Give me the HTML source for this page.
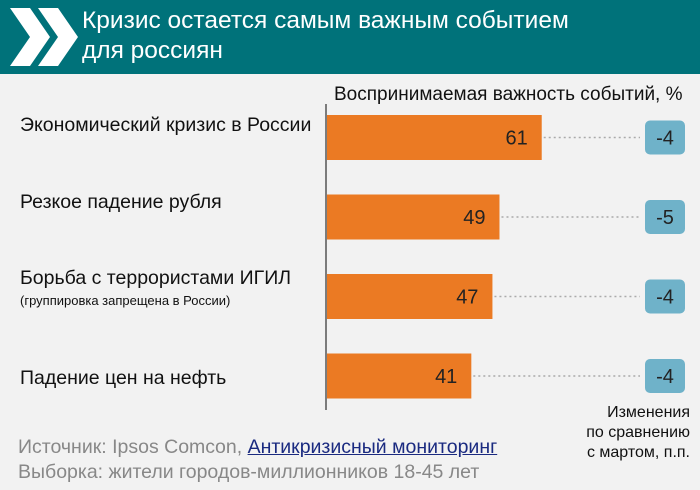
<!DOCTYPE html>
<html><head><meta charset="utf-8"><style>
body{margin:0;width:700px;height:490px;background:#f2f2f2;font-family:"Liberation Sans","DejaVu Sans",sans-serif;overflow:hidden;position:relative}
.hdr{position:absolute;left:0;top:0;width:700px;height:74px;background:#00727a}
.t{position:absolute;left:82px;color:#fff;font-size:24.5px;line-height:30px}
.lab{position:absolute;left:20px;font-size:19.5px;color:#111}
.note{position:absolute;font-size:19.5px;color:#888;white-space:nowrap}
</style></head><body>
<div class="hdr">
<svg width="80" height="74" style="position:absolute;left:0;top:0">
<polygon points="10,8 30,8 50,37 30,66 10,66 30,37" fill="#fff"/>
<polygon points="38,8 58,8 78,37 58,66 38,66 58,37" fill="#fff"/>
</svg>
<div class="t" style="top:6px">Кризис остается самым важным событием<br>для россиян</div>
</div>
<div style="position:absolute;left:334px;top:84px;font-size:19px;color:#111;white-space:nowrap">Воспринимаемая важность событий, %</div>
<div class="lab" style="top:114px">Экономический кризис в России</div>
<div class="lab" style="top:191px">Резкое падение рубля</div>
<div class="lab" style="top:267px">Борьба с террористами ИГИЛ</div>
<div style="position:absolute;left:20px;top:293px;font-size:13px;color:#111">(группировка запрещена в России)</div>
<div class="lab" style="top:367px">Падение цен на нефть</div>
<svg id="ch" width="700" height="490" style="position:absolute;left:0;top:0"></svg>
<div style="position:absolute;left:560px;top:403px;width:130px;text-align:right;font-size:16px;line-height:20px;color:#111">Изменения<br>по сравнению<br>с мартом, п.п.</div>
<div class="note" style="left:18px;top:436px">Источник: Ipsos Comcon, <span style="color:#1a2a80;text-decoration:underline">Антикризисный мониторинг</span></div>
<div class="note" style="left:18px;top:461px">Выборка: жители городов-миллионников 18-45 лет</div>
<script>
const categories=["Экономический кризис в России","Резкое падение рубля","Борьба с террористами ИГИЛ","Падение цен на нефть"];
const values=[61,49,47,41];
const changes=["-4","-5","-4","-4"];
const svg=document.getElementById('ch');
const NS='http://www.w3.org/2000/svg';
const x0=327,k=3.52,top0=115,step=79.5,bh=45;
const xs=v=>x0+v*k, ys=i=>top0+i*step;
function mk(t,a){const e=document.createElementNS(NS,t);for(const n in a)e.setAttribute(n,a[n]);svg.appendChild(e);return e;}
values.forEach((v,i)=>{
const y=ys(i),cy=y+bh/2;
const r=mk('rect',{x:x0,y:y,width:xs(v)-x0,height:bh,fill:'#eb7a23'});


const l=mk('line',{x1:xs(v)+2,y1:cy,x2:640,y2:cy,stroke:'#aaa','stroke-width':1.5,'stroke-dasharray':'2,3'});


const t=mk('text',{x:xs(v)-14,y:cy+7,'text-anchor':'end','font-size':20,fill:'#222','font-family':'Liberation Sans, sans-serif'});
t.textContent=v;


const b=mk('rect',{x:645,y:cy-17,width:40,height:34,rx:5,fill:'#6fb2c9'});


const bt=mk('text',{x:665,y:cy+7,'text-anchor':'middle','font-size':20,fill:'#222','font-family':'Liberation Sans, sans-serif'});
bt.textContent=changes[i];


});
const ax=mk('line',{x1:326,y1:104,x2:326,y2:410,stroke:'#555','stroke-width':1.5});


</script>
</body></html>
